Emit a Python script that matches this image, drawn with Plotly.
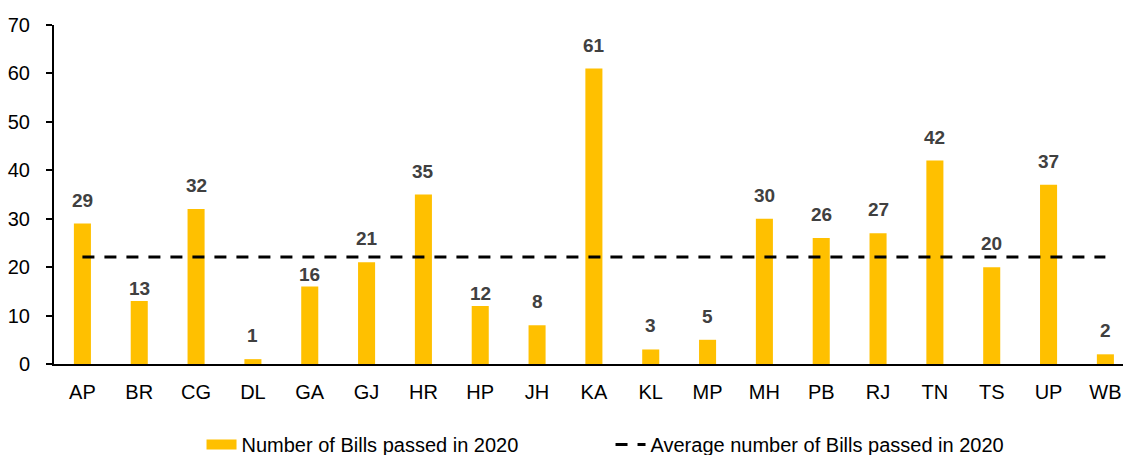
import plotly.graph_objects as go

states = ["AP", "BR", "CG", "DL", "GA", "GJ", "HR", "HP", "JH", "KA",
          "KL", "MP", "MH", "PB", "RJ", "TN", "TS", "UP", "WB"]
bills_2020 = [29, 13, 32, 1, 16, 21, 35, 12, 8, 61, 3, 5, 30, 26, 27, 42, 20, 37, 2]
y_ticks = [0, 10, 20, 30, 40, 50, 60, 70]

average = sum(bills_2020) / len(bills_2020)
avg_line = [average] * len(states)

FONT = "Liberation Sans, Arial, sans-serif"
BAR_COLOR = "#FFC000"
# label nudges (px) that keep labels clear of the average line
label_nudge = {"BR": -11, "GA": -11, "HP": -11}

fig = go.Figure()
fig.add_trace(go.Bar(
    x=states, y=bills_2020, name="Number of Bills passed in 2020",
    marker=dict(color=BAR_COLOR, line=dict(width=0)),
    showlegend=False, legendgroup="bars",
))
# legend swatch for the bars (wide rectangle like the reference)
fig.add_trace(go.Scatter(
    x=[None], y=[None], mode="lines", name="Number of Bills passed in 2020",
    line=dict(color=BAR_COLOR, width=12), legendgroup="bars", showlegend=True,
))
fig.add_trace(go.Scatter(
    x=states, y=avg_line, mode="lines",
    name="Average number of Bills passed in 2020",
    line=dict(color="black", width=3, dash="12px,10px"),
))

for s, v in zip(states, bills_2020):
    fig.add_annotation(x=s, y=v, text=str(v), showarrow=False,
                       yanchor="bottom", yshift=11 + label_nudge.get(s, 0),
                       font=dict(family=FONT, size=19, color="#404040", weight="bold"))

fig.update_layout(
    width=1123, height=455,
    margin=dict(l=54, r=0, t=25, b=91, autoexpand=False),
    paper_bgcolor="white", plot_bgcolor="white",
    font=dict(family=FONT, size=19, color="black"),
    bargap=0.7,
    showlegend=True,
    legend=dict(orientation="h", x=0.138, xanchor="left", y=-0.295, yanchor="bottom",
                font=dict(size=20, family=FONT, color="black"),
                entrywidth=364, entrywidthmode="pixels",
                bgcolor="rgba(0,0,0,0)"),
)
fig.update_xaxes(
    type="category", range=[-0.5, 18.31],
    showline=True, linecolor="black", linewidth=2,
    ticks="", showgrid=False, zeroline=False,
    ticklabelstandoff=9,
    tickfont=dict(size=20, family=FONT, color="black"),
)
fig.update_yaxes(
    range=[0, 70], tickvals=y_ticks,
    showline=True, linecolor="black", linewidth=2,
    ticks="outside", ticklen=6, tickwidth=1.5, tickcolor="black",
    showgrid=False, zeroline=False,
    ticklabelstandoff=12,
    tickfont=dict(size=20, family=FONT, color="black"),
)

fig.write_html(
    "out.html",
    config={"displayModeBar": False},
    post_script="document.body.style.margin='0';document.body.style.overflow='hidden';",
)
